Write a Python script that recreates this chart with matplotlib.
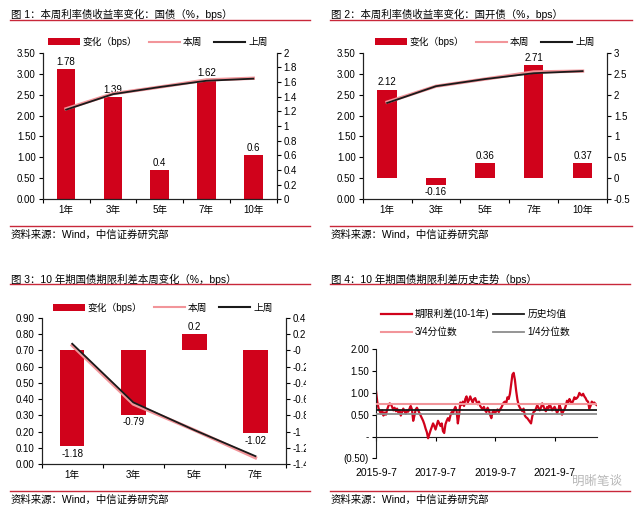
import numpy as np
import pandas as pd
import matplotlib
matplotlib.use('Agg')
import matplotlib.pyplot as plt
import matplotlib.dates as mdates
from matplotlib.lines import Line2D
from matplotlib.patches import Patch, Rectangle

plt.rcParams['font.family'] = ['Liberation Sans', 'Noto Sans CJK SC']
plt.rcParams['axes.unicode_minus'] = False

# ---- data ----
tenors = ['1年', '3年', '5年', '7年', '10年']
gz_chg = [1.78, 1.39, 0.4, 1.62, 0.6]          # 国债 bps
gz_now = [2.16, 2.52, 2.68, 2.85, 2.89]
gz_prev = [2.14, 2.51, 2.68, 2.83, 2.88]

gk_chg = [2.12, -0.16, 0.36, 2.71, 0.37]       # 国开债 bps
gk_now = [2.32, 2.70, 2.87, 3.04, 3.06]
gk_prev = [2.30, 2.70, 2.87, 3.01, 3.06]

sp_tenors = ['1年', '3年', '5年', '7年']
sp_chg = [-1.18, -0.79, 0.2, -1.02]
sp_now = [0.73, 0.37, 0.21, 0.04]
sp_prev = [0.74, 0.38, 0.21, 0.05]

# 10-1年 期限利差, twice a month, 2015-9-7 .. 2023-2-7
spread_vals = [
    1.05, 0.80, 0.65, 0.58, 0.52, 0.60, 0.48, 0.55,
    0.50, 0.62, 0.70, 0.76, 0.74, 0.68, 0.60, 0.66, 0.58, 0.64, 0.55, 0.60,
    0.48, 0.56, 0.64, 0.58, 0.52, 0.60, 0.57, 0.64, 0.70, 0.62, 0.36, 0.48,
    0.62, 0.66, 0.60, 0.54, 0.48, 0.42, 0.36, 0.28, 0.18, 0.10, -0.04, 0.05,
    0.14, 0.22, 0.30, 0.24, 0.16, 0.26, 0.36, 0.30, 0.24, 0.30, 0.12, 0.08,
    0.28, 0.36, 0.42, 0.36, 0.48, 0.56, 0.52, 0.62, 0.68, 0.58, 0.30, 0.50,
    0.78, 0.72, 0.80, 0.70, 0.86, 0.92, 0.78, 0.84, 0.92, 0.84, 0.78, 0.86,
    0.88, 0.80, 0.74, 0.80, 0.70, 0.66, 0.62, 0.68, 0.60, 0.56, 0.66, 0.60,
    0.50, 0.42, 0.56, 0.60, 0.54, 0.58, 0.62, 0.56, 0.62, 0.66, 0.72, 0.78,
    0.80, 0.76, 0.90, 0.86, 0.98, 1.20, 1.42, 1.46, 1.30, 1.05, 0.85, 0.72,
    0.66, 0.62, 0.58, 0.64, 0.48, 0.44, 0.42, 0.38, 0.34, 0.30, 0.46, 0.56,
    0.58, 0.64, 0.72, 0.66, 0.60, 0.66, 0.76, 0.70, 0.62, 0.58, 0.68, 0.64,
    0.74, 0.68, 0.60, 0.64, 0.68, 0.62, 0.54, 0.60, 0.72, 0.64, 0.50, 0.58,
    0.62, 0.70, 0.82, 0.78, 0.86, 0.80, 0.76, 0.82, 0.90, 0.86, 0.88, 0.92,
    1.00, 0.96, 0.94, 0.98, 0.92, 0.88, 0.82, 0.80, 0.64, 0.70, 0.80, 0.76,
    0.78, 0.74, 0.72]
hist_mean = 0.60
q75 = 0.75
q25 = 0.51
date_ticks = ['2015-9-7', '2017-9-7', '2019-9-7', '2021-9-7']

RED = '#D0021B'
PINK = '#F2959A'
DARK = '#1A1A1A'
LINE_RED = '#C8283A'

fig = plt.figure(figsize=(6.4, 5.11), dpi=100)
W, H = 640, 511


def fx(x):
    return x / W


def fy(y):
    return 1 - y / H


def axes_px(l, t, r, b):
    return fig.add_axes([fx(l), fy(b), (r - l) / W, (b - t) / H])


def frame(x0, x1, yt, yl, yb, ys, title):
    fig.text(fx(x0 + 1), fy(yt), title, fontsize=7.5, va='center', ha='left')
    fig.add_artist(Line2D([fx(x0), fx(x1)], [fy(yl)] * 2, color=LINE_RED, lw=1))
    fig.add_artist(Line2D([fx(x0), fx(x1)], [fy(yb)] * 2, color=LINE_RED, lw=1))
    fig.text(fx(x0 + 1), fy(ys), '资料来源：Wind，中信证券研究部', fontsize=7.5, va='center', ha='left')


def bar_panel(box, cats, chg, now, prev, lmax, lstep, lfmt, rlim, rstep, leg_xy):
    ax = axes_px(*box)
    ax2 = ax.twinx()
    x = np.arange(len(cats))
    ax2.bar(x, chg, width=0.4, color=RED)
    off = (rlim[1] - rlim[0]) * 0.015
    for xi, v in zip(x, chg):
        if v >= 0:
            ax2.text(xi, v + off, f'{v:g}', ha='center', va='bottom', fontsize=7)
        else:
            ax2.text(xi, v - off, f'{v:g}', ha='center', va='top', fontsize=7)
    ax.plot(x, now, color=PINK, lw=2.4)
    ax.plot(x, prev, color=DARK, lw=1.3)
    ax.set_zorder(ax2.get_zorder() + 1)
    ax.patch.set_visible(False)

    ax.set_xlim(-0.5, len(cats) - 0.5)
    ax.set_ylim(0, lmax)
    lt = np.arange(0, lmax + 1e-9, lstep)
    ax.set_yticks(lt)
    ax.set_yticklabels([lfmt.format(v) for v in lt])
    ax2.set_ylim(*rlim)
    rt = np.arange(rlim[0], rlim[1] + 1e-9, rstep)
    ax2.set_yticks(rt)
    ax2.set_yticklabels([f'{round(v, 2):g}' for v in rt])
    ax.set_xticks(x)
    ax.set_xticklabels(cats)
    ax.set_xticks(np.arange(len(cats) + 1) - 0.5, minor=True)
    ax.tick_params(axis='x', which='major', length=0, labelsize=7, pad=4)
    ax.tick_params(axis='x', which='minor', length=3, width=0.8, direction='out')
    ax.tick_params(axis='y', length=3, width=0.8, labelsize=7, pad=2)
    ax2.tick_params(axis='y', length=3, width=0.8, labelsize=7, pad=2)
    for a in (ax, ax2):
        a.spines['top'].set_visible(False)
        for s in ('left', 'right', 'bottom'):
            a.spines[s].set_linewidth(0.8)
            a.spines[s].set_color('#222222')
    handles = [Patch(facecolor=RED), Line2D([], [], color=PINK, lw=1.5),
               Line2D([], [], color=DARK, lw=1.5)]
    fig.legend(handles, ['变化（bps）', '本周', '上周'], loc='center',
               bbox_to_anchor=(fx(leg_xy[0]), fy(leg_xy[1])), ncol=3, frameon=False,
               fontsize=7, handlelength=3.2, handletextpad=0.3, columnspacing=1.2)
    return ax, ax2


frame(10, 310, 14, 20, 226, 235, '图 1：本周利率债收益率变化：国债（%，bps）')
frame(330, 632, 14, 20, 226, 235, '图 2：本周利率债收益率变化：国开债（%，bps）')
frame(10, 310, 279, 284.3, 491, 500, '图 3：10 年期国债期限利差本周变化（%，bps）')
frame(330, 630, 279, 284.3, 491, 500, '图 4：10 年期国债期限利差历史走势（bps）')

bar_panel((42.7, 52.7, 276.7, 199.3), tenors, gz_chg, gz_now, gz_prev,
          3.5, 0.5, '{:.2f}', (0, 2), 0.2, (158, 42))
bar_panel((362.7, 52.7, 607, 199.3), tenors, gk_chg, gk_now, gk_prev,
          3.5, 0.5, '{:.2f}', (-0.5, 3), 0.5, (485, 42))
bar_panel((41.7, 317.7, 286, 464.3), sp_tenors, sp_chg, sp_now, sp_prev,
          0.9, 0.1, '{:.2f}', (-1.4, 0.4), 0.2, (163, 307.7))

# clip right tick labels of panel 3 like the source image
fig.add_artist(Rectangle((fx(306), fy(480)), (322 - 306) / W, 180 / H,
                         transform=fig.transFigure, facecolor='white',
                         edgecolor='none', zorder=10))

# ---- panel 4 ----
dates = pd.date_range('2015-09-07', '2023-02-07', periods=len(spread_vals))
xd = mdates.date2num(dates.to_pydatetime())
ax4 = axes_px(376, 349.3, 597, 458.3)
l1, = ax4.plot(xd, spread_vals, color=RED, lw=1.6, zorder=2)
l3 = ax4.axhline(q75, color=PINK, lw=1.5, zorder=3)
l2 = ax4.axhline(hist_mean, color=DARK, lw=1.3, zorder=3)
l4 = ax4.axhline(q25, color='#8C8C8C', lw=1.3, zorder=3)
ax4.set_ylim(-0.5, 2.0)
ax4.set_xlim(xd[0], xd[-1] + 3)
ax4.set_yticks([-0.5, 0, 0.5, 1.0, 1.5, 2.0])
ax4.set_yticklabels(['(0.50)', '-', '0.50', '1.00', '1.50', '2.00'])
tick_x = mdates.date2num(pd.to_datetime(date_ticks).to_pydatetime())
ax4.set_xticks(tick_x)
ax4.set_xticklabels(date_ticks)
ax4.tick_params(axis='x', length=0, labelsize=7.5, pad=7)
ax4.tick_params(axis='y', length=3, width=0.8, labelsize=7, pad=2)
for s in ('top', 'right', 'bottom'):
    ax4.spines[s].set_visible(False)
ax4.spines['left'].set_linewidth(0.8)
ax4.spines['left'].set_color('#222222')
sec = ax4.secondary_xaxis(0.2)
sec.set_xticks(tick_x)
sec.set_xticklabels([])
sec.tick_params(axis='x', length=3, width=0.8, direction='out')
sec.spines['bottom'].set_linewidth(0.8)
sec.spines['bottom'].set_color('#222222')

fig.legend([l1, l3, l2, l4], ['期限利差(10-1年)', '3/4分位数', '历史均值', '1/4分位数'],
           loc='upper left', bbox_to_anchor=(fx(372), fy(300)), ncol=2, frameon=False,
           fontsize=7, handlelength=3.2, handletextpad=0.3, columnspacing=0.4,
           labelspacing=0.8)

fig.text(fx(597), fy(482), '明晰笔谈', fontsize=9, color='#B8B8B8', ha='center', va='center')

fig.savefig('out.png', dpi=100)
